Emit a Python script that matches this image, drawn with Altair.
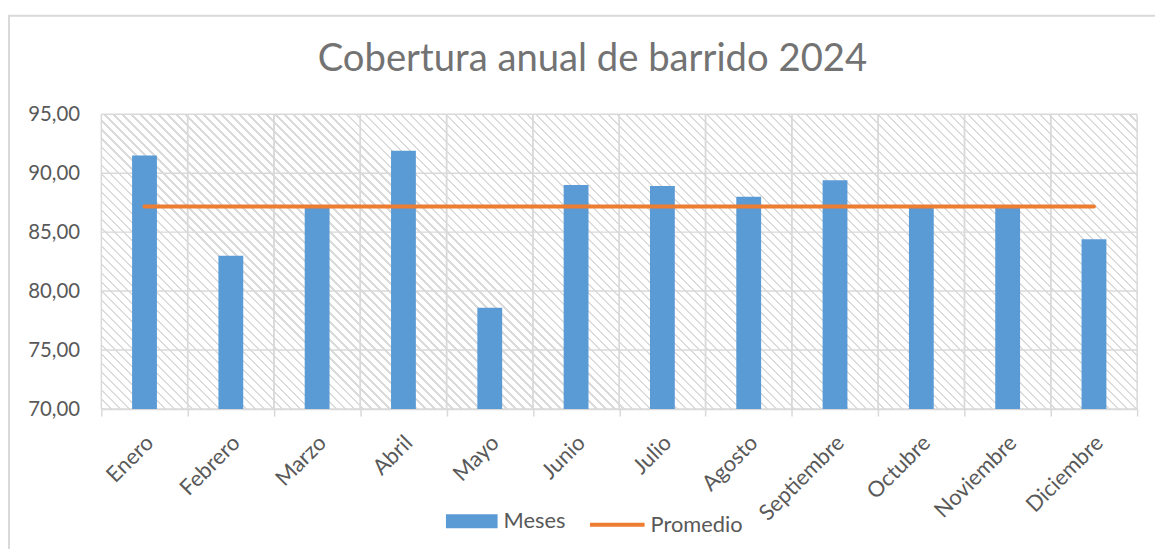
import altair as alt
import pandas as pd

# ---- data ----
months = ["Enero", "Febrero", "Marzo", "Abril", "Mayo", "Junio", "Julio",
          "Agosto", "Septiembre", "Octubre", "Noviembre", "Diciembre"]
meses = [91.5, 83.0, 87.1, 91.9, 78.6, 89.0, 88.9, 88.0, 89.4, 87.1, 87.1, 84.4]
promedio = [87.17] * 12
y_ticks = [70, 75, 80, 85, 90, 95]

df = pd.DataFrame({"mes": months, "Meses": meses, "Promedio": promedio})
ticks_df = pd.DataFrame({"v": y_ticks})

# ---- layout / style ----
W, H = 1043, 297
FONT = "Lato"
TXT = "#595959"
GRID = "#d9d9d9"
BLUE = "#5B9BD5"
ORANGE = "#ED7D31"

# diagonal hatch for the plot background (style only)
period = 9.0
n = int((W + H) / period)
r = H / W
s = (1 + r) / (1 + r * r)
HATCH = "#dbdbdb"
stops = []
for k in range(n):
    o = k / n
    stops.append(alt.GradientStop(offset=o, color=HATCH))
    stops.append(alt.GradientStop(offset=min(o + 0.25 / n, 1), color=HATCH))
    stops.append(alt.GradientStop(offset=min(o + 0.25 / n, 1), color="#ffffff"))
    stops.append(alt.GradientStop(offset=min((k + 1) / n, 1), color="#ffffff"))
hatch = alt.LinearGradient(gradient="linear", x1=0, y1=1, x2=s, y2=1 - s * r,
                           stops=stops)

x_sort = months
y_scale = alt.Scale(domain=[70, 95], zero=False, nice=False)

background = alt.Chart(pd.DataFrame({"a": [0]})).mark_rect(
    fill=hatch, strokeWidth=0
).encode(x=alt.value(0), x2=alt.value(W), y=alt.value(0), y2=alt.value(H))

hgrid = alt.Chart(ticks_df).mark_rule(color=GRID, strokeWidth=1.5).encode(
    y=alt.Y("v:Q", scale=y_scale)
)
vgrid0 = alt.Chart(df).mark_rule(color=GRID, strokeWidth=1.5).encode(
    x=alt.X("mes:N", sort=x_sort, bandPosition=0)
)
vgrid1 = alt.Chart(df).mark_rule(color=GRID, strokeWidth=1.5).encode(
    x=alt.X("mes:N", sort=x_sort, bandPosition=1)
)

x_enc = alt.X("mes:N", sort=x_sort,
              scale=alt.Scale(paddingInner=0, paddingOuter=0),
              axis=alt.Axis(title=None, labelAngle=-45, labelFontSize=22,
                            labelColor=TXT, labelFont=FONT, labelPadding=23,
                            labelOffset=5,
                            tickBand="extent", tickSize=7, tickColor=GRID,
                            tickWidth=1.5, domainColor=GRID, domainWidth=1.5,
                            grid=False))

y_axis = alt.Axis(title=None, values=y_ticks,
                  labelExpr="replace(format(datum.value, '.2f'), '.', ',')",
                  ticks=False, domain=False, grid=False,
                  labelFontSize=20.5, labelColor=TXT,
                  labelFont=FONT, labelPadding=22)

bars = alt.Chart(df).transform_calculate(serie1="'Meses'").mark_bar(size=25).encode(
    x=x_enc,
    y=alt.Y("Meses:Q", scale=y_scale, axis=y_axis),
    y2=alt.datum(70),
    fill=alt.Fill("serie1:N",
                  scale=alt.Scale(domain=["Meses"], range=[BLUE]),
                  legend=alt.Legend(orient="none", legendX=347, legendY=384,
                                    title=None, labelFontSize=22,
                                    labelColor=TXT, labelFont=FONT,
                                    labelOffset=6, symbolSize=2704,
                                    symbolStrokeWidth=0,
                                    symbolType="M-1,-0.27L1,-0.27L1,0.27L-1,0.27Z")),
)

line = alt.Chart(df).transform_calculate(serie2="'Promedio'").mark_line(
    strokeWidth=4, strokeCap="round"
).encode(
    x=alt.X("mes:N", sort=x_sort),
    y=alt.Y("Promedio:Q", scale=y_scale),
    stroke=alt.Stroke("serie2:N",
                      scale=alt.Scale(domain=["Promedio"], range=[ORANGE]),
                      legend=alt.Legend(orient="none", legendX=490, legendY=384,
                                        title=None, labelFontSize=22,
                                        labelColor=TXT, labelFont=FONT,
                                        labelOffset=4, symbolSize=3025,
                                        symbolStrokeWidth=4,
                                        symbolType="stroke")),
)

frame = alt.Chart(pd.DataFrame({"a": [0]})).mark_rect(
    filled=False, stroke=GRID, strokeWidth=2
).encode(x=alt.value(-93), x2=alt.value(1200), y=alt.value(-99),
         y2=alt.value(480))

chart = alt.layer(frame, background, hgrid, vgrid0, vgrid1, bars, line).properties(
    width=W, height=H,
    autosize=alt.AutoSizeParams(type="none"),
    padding={"left": 94, "top": 105, "right": 18, "bottom": 139},
    title=alt.TitleParams("Cobertura anual de barrido 2024", fontSize=38.5,
                          font=FONT, color="#737373", fontWeight="normal",
                          anchor="middle", frame="group", baseline="alphabetic",
                          dx=-27, offset=-95),
).resolve_scale(fill="independent", stroke="independent").configure_view(
    stroke=None
)

chart.save("out.html", embed_options={"renderer": "svg", "actions": False})
